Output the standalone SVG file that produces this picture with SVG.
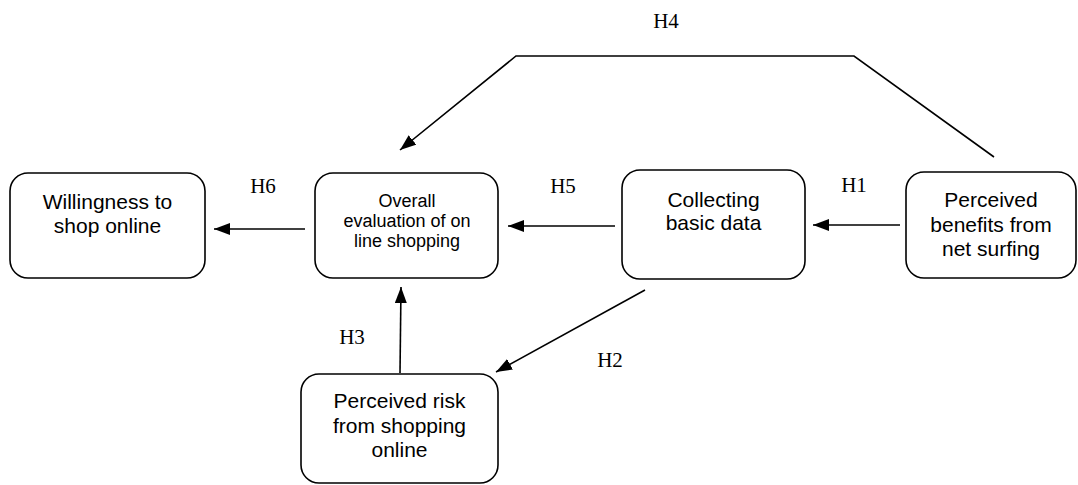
<svg xmlns="http://www.w3.org/2000/svg" width="1078" height="485" viewBox="0 0 1078 485">
<style>
.box{fill:#fff;stroke:#000;stroke-width:1.6}
.t{font-family:"Liberation Sans",Arial,sans-serif;font-size:21px;fill:#000;text-anchor:middle}
.ts{font-family:"Liberation Sans",Arial,sans-serif;font-size:18px;fill:#000;text-anchor:middle}
.lbl{font-family:"Liberation Serif","Times New Roman",serif;font-size:21px;fill:#000;text-anchor:middle}
.c{fill:none;stroke:#000;stroke-width:1.6}
</style>
<defs>
<marker id="ah" markerUnits="userSpaceOnUse" markerWidth="18" markerHeight="14" refX="16" refY="6" orient="auto">
<path d="M0,0 L16,6 L0,12 Z" fill="#000"/>
</marker>
</defs>
<rect width="1078" height="485" fill="#fff"/>
<g id="connectors">
<line class="c" x1="305" y1="229" x2="214" y2="229" marker-end="url(#ah)"/>
<line class="c" x1="615" y1="226" x2="508" y2="226" marker-end="url(#ah)"/>
<line class="c" x1="900" y1="225" x2="813" y2="225" marker-end="url(#ah)"/>
<line class="c" x1="400" y1="373" x2="401" y2="287" marker-end="url(#ah)"/>
<line class="c" x1="645" y1="290" x2="496" y2="372" marker-end="url(#ah)"/>
<polyline class="c" points="994,157 854,56 516,56 400,150" marker-end="url(#ah)"/>
<text class="lbl" x="263" y="193">H6</text>
<text class="lbl" x="563" y="193">H5</text>
<text class="lbl" x="854" y="192">H1</text>
<text class="lbl" x="352" y="344">H3</text>
<text class="lbl" x="610" y="367">H2</text>
<text class="lbl" x="666" y="28">H4</text>
</g>
<g id="willingness">
<rect class="box" x="10" y="173" width="195" height="105" rx="18"/>
<text class="t" x="107.5" y="209">Willingness to</text>
<text class="t" x="107.5" y="233">shop online</text>
</g>
<g id="overall">
<rect class="box" x="315" y="173" width="183" height="105" rx="18"/>
<text class="ts" x="407" y="207">Overall</text>
<text class="ts" x="407" y="227">evaluation of on</text>
<text class="ts" x="407" y="247">line shopping</text>
</g>
<g id="collecting">
<rect class="box" x="622" y="170" width="183" height="109" rx="18"/>
<text class="t" x="713.5" y="207">Collecting</text>
<text class="t" x="713.5" y="230">basic data</text>
</g>
<g id="benefits">
<rect class="box" x="906" y="172" width="170" height="106" rx="18"/>
<text class="t" x="991" y="207">Perceived</text>
<text class="t" x="991" y="232">benefits from</text>
<text class="t" x="991" y="256">net surfing</text>
</g>
<g id="risk">
<rect class="box" x="301" y="374" width="197" height="109" rx="18"/>
<text class="t" x="399.5" y="408">Perceived risk</text>
<text class="t" x="399.5" y="433">from shopping</text>
<text class="t" x="399.5" y="457">online</text>
</g>
</svg>
